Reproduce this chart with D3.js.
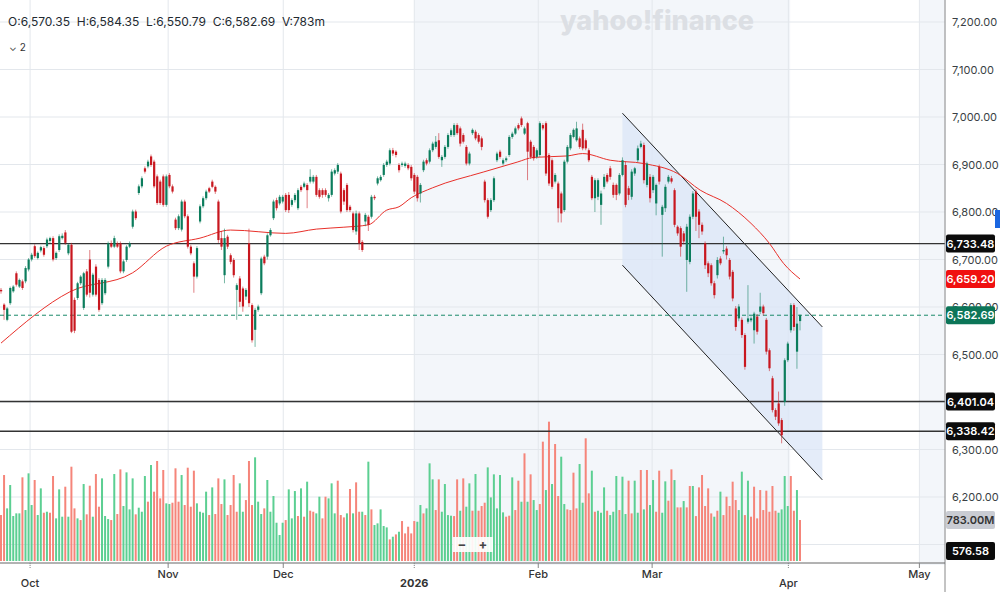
<!DOCTYPE html>
<html><head><meta charset="utf-8">
<script src="https://cdn.jsdelivr.net/npm/d3@7"></script>
<style>body{margin:0;background:#fff}svg{display:block;font-family:Inter,"Noto Sans",Arial,sans-serif}</style>
</head><body><svg id="c" width="1000" height="592"></svg>
<script>
// [open, high, low, close] per bar (two bars per trading day)
const candles = [
[6636,6640,6628,6633],[6605,6608,6573,6594],[6573,6600,6570,6597],[6608,6643,6604,6640],[6633,6646,6630,6643],[6671,6675,6643,6647],[6643,6660,6640,6657],[6654,6658,6636,6640],[6654,6686,6650,6682],[6679,6703,6675,6700],
[6700,6714,6696,6710],[6728,6732,6703,6707],[6703,6717,6700,6714],[6719,6729,6715,6726],[6724,6728,6706,6710],[6728,6746,6724,6742],[6739,6748,6735,6745],[6745,6749,6696,6700],[6703,6717,6699,6714],[6720,6753,6716,6749],
[6745,6755,6742,6750],[6757,6762,6731,6735],[6713,6734,6709,6731],[6731,6735,6545,6548],[6615,6620,6545,6550],[6619,6653,6615,6650],[6650,6667,6646,6664],[6598,6674,6594,6671],[6675,6680,6622,6626],[6700,6720,6620,6630],
[6626,6672,6622,6668],[6685,6690,6622,6626],[6657,6661,6590,6594],[6608,6661,6604,6657],[6629,6661,6625,6657],[6685,6738,6681,6734],[6734,6740,6724,6727],[6727,6750,6724,6745],[6734,6738,6724,6727],[6734,6738,6671,6675],
[6675,6700,6671,6696],[6699,6730,6695,6727],[6727,6738,6724,6734],[6769,6805,6765,6801],[6801,6805,6783,6787],[6840,6858,6836,6854],[6854,6875,6850,6871],[6892,6896,6881,6885],[6896,6910,6892,6906],[6917,6921,6895,6899],
[6906,6910,6850,6854],[6875,6879,6815,6819],[6864,6868,6815,6819],[6875,6879,6811,6815],[6815,6879,6811,6875],[6878,6882,6850,6854],[6854,6858,6839,6843],[6784,6788,6762,6766],[6766,6795,6762,6791],[6763,6826,6759,6822],
[6822,6826,6787,6791],[6791,6795,6723,6727],[6727,6731,6709,6713],[6692,6696,6630,6664],[6664,6728,6660,6724],[6780,6816,6776,6812],[6812,6833,6808,6829],[6829,6847,6825,6843],
[6850,6853,6840,6843],[6864,6868,6850,6853],[6853,6856,6838,6843],[6822,6826,6735,6741],[6745,6760,6720,6727],[6667,6765,6650,6745],[6748,6752,6722,6727],[6709,6713,6690,6695],[6699,6703,6662,6667],[6636,6650,6573,6646],
[6660,6665,6600,6611],[6639,6643,6590,6601],[6622,6640,6615,6636],[6734,6765,6600,6608],[6604,6608,6525,6530],[6552,6598,6516,6594],[6594,6605,6590,6601],[6629,6706,6625,6702],[6706,6710,6688,6692],[6706,6755,6700,6751],
[6751,6766,6748,6762],[6787,6826,6783,6822],[6825,6830,6803,6808],[6818,6836,6814,6832],[6822,6836,6818,6832],[6836,6840,6800,6804],[6836,6842,6798,6804],[6815,6829,6811,6825],[6825,6840,6820,6836],[6808,6850,6804,6846],
[6853,6857,6842,6846],[6853,6864,6850,6860],[6857,6861,6808,6846],[6864,6890,6860,6874],[6864,6878,6860,6874],[6874,6878,6832,6836],[6846,6850,6828,6832],[6846,6850,6830,6836],[6846,6850,6832,6836],[6829,6840,6822,6836],
[6836,6890,6832,6885],[6881,6892,6877,6888],[6885,6903,6880,6899],[6881,6885,6797,6801],[6846,6850,6815,6822],[6857,6861,6800,6804],[6811,6815,6800,6804],[6797,6801,6757,6762],[6759,6803,6752,6797],[6797,6801,6720,6734],
[6737,6741,6716,6720],[6780,6798,6770,6794],[6790,6794,6760,6773],[6790,6836,6786,6832],[6832,6836,6825,6829],[6860,6875,6856,6871],[6867,6878,6864,6874],[6878,6903,6874,6899],[6899,6910,6895,6906],[6902,6934,6898,6930],
[6930,6935,6918,6923],[6927,6930,6915,6920],[6899,6903,6883,6888],[6899,6906,6895,6902],[6897,6906,6893,6902],[6899,6903,6888,6892],[6895,6899,6866,6871],
[6878,6882,6838,6843],[6874,6878,6822,6829],[6839,6861,6820,6857],[6888,6910,6884,6906],[6909,6913,6898,6902],[6906,6934,6902,6930],[6930,6948,6926,6944],[6937,6960,6933,6948],[6951,6966,6912,6916],[6909,6920,6895,6916],
[6916,6941,6912,6937],[6937,6966,6933,6962],[6962,6976,6958,6972],[6962,6987,6958,6983],[6983,6987,6962,6966],[6976,6980,6938,6944],[6962,6966,6944,6948],[6937,6941,6898,6902],[6902,6927,6898,6923],[6966,6976,6962,6973],
[6969,6973,6951,6955],[6962,6966,6944,6948],[6955,6959,6930,6937],[6864,6868,6820,6825],[6825,6829,6786,6790],[6804,6829,6800,6825],[6825,6875,6821,6871],[6909,6927,6905,6923],[6927,6931,6912,6916],[6902,6913,6898,6909],
[6909,6917,6905,6913],[6920,6962,6916,6958],[6958,6969,6954,6965],[6965,6980,6962,6976],[6983,6987,6972,6976],[6997,7001,6979,6983],[6965,6980,6962,6976],[6987,6990,6867,6927],[6948,6952,6912,6916],[6937,6941,6908,6913],
[6916,6934,6912,6930],[6920,6991,6916,6987],[6983,6987,6972,6976],[6987,6991,6876,6881],[6920,6924,6855,6860],[6909,6913,6848,6853],[6864,6882,6860,6878],[6860,6864,6778,6808],[6839,6843,6778,6797],[6804,6910,6800,6906],
[6906,6941,6902,6937],[6934,6966,6930,6962],[6958,6976,6955,6973],[6951,6990,6948,6976],[6955,6959,6933,6937],[6973,6986,6930,6934],[6951,6955,6930,6934],[6930,6934,6905,6909],[6874,6878,6825,6829],[6829,6871,6800,6867],
[6832,6871,6825,6867],
[6815,6845,6773,6839],[6853,6880,6848,6874],[6878,6882,6860,6864],[6892,6897,6868,6874],[6857,6862,6830,6836],[6857,6860,6825,6836],[6839,6882,6835,6878],[6878,6915,6875,6909],[6899,6906,6810,6815],[6850,6855,6825,6836],
[6832,6890,6826,6885],[6881,6895,6876,6892],[6909,6940,6905,6934],[6937,6950,6934,6944],[6941,6946,6860,6867],[6857,6906,6852,6902],[6874,6880,6820,6829],[6846,6878,6840,6874],[6818,6860,6793,6857],[6895,6900,6858,6864],
[6794,6815,6706,6811],[6808,6858,6800,6853],[6864,6878,6860,6874],[6871,6876,6860,6864],[6846,6850,6768,6773],[6769,6772,6750,6755],[6766,6770,6706,6727],[6755,6760,6732,6738],[6699,6775,6632,6769],[6695,6795,6690,6790],
[6790,6844,6785,6839],[6843,6848,6760,6790],[6801,6806,6745,6773],[6773,6778,6752,6759],[6734,6738,6680,6688],[6692,6696,6663,6671],[6688,6692,6645,6650],[6650,6655,6618,6625],[6667,6705,6660,6699],[6702,6707,6688,6692],
[6717,6748,6712,6720],[6723,6728,6700,6709],[6699,6703,6658,6664],[6674,6678,6612,6618],[6597,6602,6550,6558],[6576,6606,6570,6601],[6573,6578,6535,6541],[6541,6545,6468,6474],[6569,6646,6565,6576],[6572,6580,6568,6576],
[6551,6590,6523,6586],[6580,6585,6542,6548],[6590,6630,6585,6601],[6601,6605,6582,6587],[6573,6577,6500,6506],[6509,6513,6465,6471],[6450,6455,6378,6383],[6383,6387,6362,6369],[6397,6422,6350,6355],[6362,6366,6313,6330],
[6400,6492,6392,6488],[6488,6527,6484,6523],[6551,6608,6546,6604],[6604,6608,6550,6558],[6506,6600,6470,6565],[6570.35,6584.35,6550.79,6582.69]
];
const maPoints = [[0,6524],[22.5,6632],[43,6672],[54,6728],[65,6745],[75,6762],[93,6755],[103,6764],[112,6768],[120,6773],[126,6804],[130,6811],[134,6830],[141,6851],[157.5,6884],[168.6,6905],[174,6915],[185,6918],[190,6923],[199,6909],[210,6902],[221,6881],[228.4,6846],[237,6818],[245,6776],[251,6734],[255.6,6692],[261,6659]];
const volume = [878,1642,1005,1451,859,910,910,1598,973,1674,1069,1547,878,1387,922,941,922,1623,814,1368,846,1419,846,1801,1005,814,782,1470,891,1438,846,1661,1037,1578,859,801,782,1661,897,1750,1050,1693,986,1578,891,1018,941,1623,1133,1833,1324,1910,1196,1738,1101,1088,1113,1770,1133,1642,1069,1782,1037,1725,1101,941,922,1324,878,1406,897,1578,1088,1559,878,1069,1642,941,1483,941,1164,1910,1069,1980,1133,897,1005,1547,941,1241,731,496,731,782,1368,814,1336,859,1387,846,1515,961,941,910,1228,814,1228,1196,1483,910,1534,878,833,910,1375,910,1502,941,941,878,1897,986,687,719,986,668,642,413,464,508,559,763,527,655,527,763,750,
1069,909,1005,1865,1559,973,1559,941,1470,877,865,858,1559,960,1578,1037,1483,960,1661,960,1050,1113,1788,1215,1655,1005,1642,929,846,865,1597,973,1534,1132,2056,1132,1655,1164,973,1088,2279,1355,2661,1470,2234,1241,1992,1088,986,973,1687,1005,1852,1113,2343,1292,1725,941,960,922,1406,960,877,941,1623,973,1610,897,1534,909,1534,922,1738,986,1738,1069,1546,941,1725,922,1521,1152,1750,1546,1024,1024,1145,1024,1432,1432,858,1406,1642,1050,1387,909,846,960,1324,877,1228,1050,1515,1164,973,1706,877,1534,846,1419,814,1355,973,1343,941,1432,960,922,986,1623,1050,1623,960,1355,783];
const volumeDir = ("rrgggggrgggrggrgrrgggrgrrgrgrrgrrgggrgrrggggrgggrgrrrrggrrrgrrrrggggrgrrrgrrrrggrrrgggrggggggrgggrgrgrrggrrgggrrrgrgrrgrgrgggggrgrgrrrrrg"+
 "grgggrrggggrrgrggrgrrrggggggrrgrrgrgrggrrgrgrrggrrrrggrrgrgggrgggrggrrggrgrggrrggrrgrrgrrgrrrrrrgrgrrrrrggrgrrrrrrrrrggggrrg").split("");
const priceTicks = [7300,7200,7100,7000,6900,6800,6700,6600,6500,6400,6300,6200,6100];
const hiddenTickLabels = [6400];
const levels = [6733.48,6401.04,6338.42];
const lastClose = 6582.69, lastMA = 6659.20, lastVol = "783.00M", extraTag = "576.58";
const months = [["Oct",9.5,1],["Nov",54.6,0],["Dec",92.2,0],["2026",135,1],["Feb",175.5,0],["Mar",212.7,0],["Apr",257.2,1],["May",300,0]];
const channelUpper = [[203,7008],[268.3,6558]];
const channelLower = [[203,6688],[268.3,6236]];
const bands = [[135,257.8],[300,308.6]];

const svg = d3.select("#c");
const x = d3.scaleLinear().domain([0,261]).range([1,800]);
const y = d3.scaleLinear().domain([6200,7200]).range([497,22]);
const vy = d3.scaleLinear().domain([0,783]).range([561,520]);
const plotR = 945, GREEN="#0c7d5d", RED="#c8171f";

svg.selectAll(".band").data(bands).enter().append("rect")
 .attr("x",d=>x(d[0])).attr("width",d=>x(d[1])-x(d[0])).attr("y",0).attr("height",565).attr("fill","#f3f6fa");
svg.selectAll(".hg").data(priceTicks).enter().append("line")
 .attr("x1",0).attr("x2",plotR).attr("y1",d=>y(d)).attr("y2",d=>y(d)).attr("stroke","#e3e7ec");
svg.selectAll(".vg").data(months).enter().append("line")
 .attr("x1",d=>x(d[1])).attr("x2",d=>x(d[1])).attr("y1",0).attr("y2",565).attr("stroke","#e3e7ec");
const cpoly = [...channelUpper, ...channelLower.slice().reverse()];
svg.append("path").attr("d",d3.line().x(d=>x(d[0])).y(d=>y(d[1]))(cpoly)+"Z").attr("fill","#dbe5f7").attr("opacity",0.75);
[channelUpper,channelLower].forEach(c=>svg.append("line").attr("x1",x(c[0][0])).attr("y1",y(c[0][1])).attr("x2",x(c[1][0])).attr("y2",y(c[1][1])).attr("stroke","#222").attr("stroke-width",1));
svg.append("text").attr("x",657).attr("y",30).attr("text-anchor","middle").attr("font-size",27).attr("font-weight",800).attr("fill","#dcdfe4").text("yahoo!finance");
const nv = volume.length;
svg.selectAll(".vol").data(volume).enter().append("rect")
 .attr("x",(d,i)=>x(i*261/(nv-1))-1).attr("width",2).attr("y",d=>vy(d)).attr("height",d=>561-vy(d))
 .attr("fill",(d,i)=>volumeDir[i]==="g"?"#5ccf92":"#f5857a");
svg.selectAll(".lvl").data(levels).enter().append("line")
 .attr("x1",0).attr("x2",plotR).attr("y1",d=>y(d)).attr("y2",d=>y(d)).attr("stroke","#333").attr("stroke-width",1.3);
svg.append("line").attr("x1",0).attr("x2",plotR).attr("y1",y(lastClose)).attr("y2",y(lastClose)).attr("stroke","#1a8a6a").attr("stroke-dasharray","4,3");
svg.append("path").attr("d",d3.line().curve(d3.curveMonotoneX).x(d=>x(d[0])).y(d=>y(d[1]))(maPoints)).attr("fill","none").attr("stroke","#e8302a").attr("stroke-width",1);
const g = svg.append("g");
candles.forEach((c,i)=>{
  const col = c[3]>=c[0]?GREEN:RED, cx=x(i);
  g.append("line").attr("x1",cx).attr("x2",cx).attr("y1",y(c[1])).attr("y2",y(c[2])).attr("stroke",col).attr("stroke-opacity",0.55);
  const t=Math.min(y(c[0]),y(c[3])), h=Math.max(1,Math.abs(y(c[0])-y(c[3])));
  g.append("rect").attr("x",cx-1).attr("width",2.2).attr("y",t).attr("height",h).attr("fill",col);
});
svg.append("line").attr("x1",plotR).attr("x2",plotR).attr("y1",0).attr("y2",592).attr("stroke","#888");
svg.append("line").attr("x1",0).attr("x2",plotR).attr("y1",563).attr("y2",563).attr("stroke","#666");
svg.selectAll(".pt").data(priceTicks.filter(p=>p<=7200&&p>=6200&&!hiddenTickLabels.includes(p))).enter().append("text")
 .attr("x",952).attr("y",d=>y(d)+4).attr("font-size",11).attr("fill","#3a3f45").text(d=>d3.format(",.2f")(d));
months.forEach(m=>{
  svg.append("line").attr("x1",x(m[1])).attr("x2",x(m[1])).attr("y1",563).attr("y2",568).attr("stroke","#888").attr("stroke-dasharray",m[2]?"1,1":null);
  svg.append("text").attr("x",x(m[1])).attr("y",m[2]?587:578).attr("text-anchor","middle").attr("font-size",11).attr("font-weight",m[0]==="2026"?700:500).attr("fill","#333").text(m[0]);
});
function tag(yy,txt,bg,fg){svg.append("rect").attr("x",946).attr("y",yy-9).attr("width",49).attr("height",18).attr("rx",2).attr("fill",bg);
 svg.append("text").attr("x",970.5).attr("y",yy+4).attr("text-anchor","middle").attr("font-size",11).attr("font-weight",600).attr("fill",fg).text(txt);}
levels.forEach(l=>tag(y(l),d3.format(",.2f")(l),"#0b0b0b","#fff"));
tag(y(lastMA),d3.format(",.2f")(lastMA),"#f01010","#fff");
tag(y(lastClose),d3.format(",.2f")(lastClose),"#0c7558","#fff");
tag(vy(783),lastVol,"#c9ccd3","#333");
tag(551,extraTag,"#0b0b0b","#fff");
svg.append("rect").attr("x",995).attr("y",210).attr("width",5).attr("height",18).attr("fill","#1a66e0");
svg.append("text").attr("x",8).attr("y",26).attr("font-size",12).attr("fill","#232a31").attr("xml:space","preserve")
 .text("O:6,570.35  H:6,584.35  L:6,550.79  C:6,582.69  V:783m");
svg.append("text").attr("x",9).attr("y",51).attr("font-size",10).attr("fill","#333").text("⌄ 2");
svg.append("rect").attr("x",453).attr("y",537).attr("width",40).attr("height",15).attr("fill","#fff").attr("opacity",0.9);
svg.append("text").attr("x",462).attr("y",549).attr("text-anchor","middle").attr("font-size",13).attr("font-weight",700).attr("fill","#444").text("−");
svg.append("text").attr("x",483).attr("y",549).attr("text-anchor","middle").attr("font-size",13).attr("font-weight",700).attr("fill","#444").text("+");
</script></body></html>
